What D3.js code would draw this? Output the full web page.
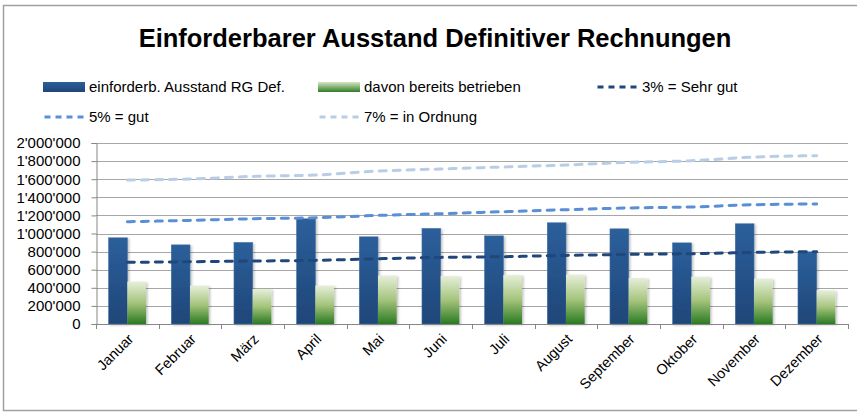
<!DOCTYPE html>
<meta charset="utf-8">
<style>
  body { margin: 0; background: #fff; }
  text { font-family: "Liberation Sans", Arial, sans-serif; fill: #000; }
  .title { font-family: "Liberation Sans Narrow", "Liberation Sans", sans-serif; font-weight: bold; font-size: 25.5px; }
  .legend text { font-size: 15px; }
  .xLabel { font-size: 14.5px; }
</style>
<body>
<script src="https://d3js.org/d3.v7.min.js"></script>
<script>
  var months = ["Januar", "Februar", "März", "April", "Mai", "Juni", "Juli", "August", "September", "Oktober", "November", "Dezember"];
  var ausstand = [952000, 874000, 900000, 1162000, 963000, 1055000, 974000, 1118000, 1051000, 896000, 1107000, 797000];
  var betrieben = [468000, 424000, 387000, 424000, 535000, 531000, 542000, 546000, 509000, 523000, 501000, 372000];
  var ziel3 = [681000, 688000, 696000, 703000, 721000, 736000, 744000, 758000, 769000, 777000, 791000, 799000];
  var ziel5 = [1130000, 1145000, 1163000, 1174000, 1200000, 1219000, 1241000, 1263000, 1282000, 1293000, 1318000, 1326000];
  var ziel7 = [1591000, 1602000, 1631000, 1646000, 1690000, 1713000, 1735000, 1757000, 1786000, 1804000, 1845000, 1860000];
  var yTicks = [0, 200000, 400000, 600000, 800000, 1000000, 1200000, 1400000, 1600000, 1800000, 2000000];

  var width = 857, height = 414;
  var plot = { left: 96, right: 848, top: 143, bottom: 324 };

  var svg = d3.select("body").append("svg")
    .attr("width", width)
    .attr("height", height);

  var defs = svg.append("defs");

  var blueGrad = defs.append("linearGradient")
    .attr("id", "blueGrad").attr("x1", 0).attr("y1", 0).attr("x2", 0).attr("y2", 1);
  blueGrad.append("stop").attr("offset", "0%").attr("stop-color", "#2c5f9b");
  blueGrad.append("stop").attr("offset", "100%").attr("stop-color", "#1f4678");

  var greenGrad = defs.append("linearGradient")
    .attr("id", "greenGrad").attr("x1", 0).attr("y1", 0).attr("x2", 0).attr("y2", 1);
  greenGrad.append("stop").attr("offset", "0%").attr("stop-color", "#e6efda");
  greenGrad.append("stop").attr("offset", "50%").attr("stop-color", "#a5c47c");
  greenGrad.append("stop").attr("offset", "100%").attr("stop-color", "#2a7a22");

  var legGreen = defs.append("linearGradient")
    .attr("id", "legGreen").attr("x1", 0).attr("y1", 0).attr("x2", 0).attr("y2", 1);
  legGreen.append("stop").attr("offset", "0%").attr("stop-color", "#d6e6c4");
  legGreen.append("stop").attr("offset", "100%").attr("stop-color", "#2e7d25");

  var shadow = defs.append("filter").attr("id", "shadow")
    .attr("x", "-20%").attr("y", "-20%").attr("width", "150%").attr("height", "150%");
  shadow.append("feDropShadow")
    .attr("dx", 1.5).attr("dy", 1).attr("stdDeviation", 1.2)
    .attr("flood-color", "#000").attr("flood-opacity", 0.25);

  // outer chart border
  svg.append("rect")
    .attr("x", 3.5).attr("y", 5.5)
    .attr("width", 870).attr("height", 405)
    .attr("fill", "none")
    .attr("stroke", "#a0a0a0")
    .attr("stroke-width", 1.5);

  svg.append("text")
    .attr("class", "title")
    .attr("x", 435)
    .attr("y", 47)
    .attr("text-anchor", "middle")
    .text("Einforderbarer Ausstand Definitiver Rechnungen");

  var x = d3.scaleBand()
    .domain(months)
    .range([plot.left, plot.right])
    .paddingInner(0.404)
    .paddingOuter(0.202);

  var xSeries = d3.scaleBand()
    .domain(["ausstand", "betrieben"])
    .range([0, x.bandwidth()]);

  var y = d3.scaleLinear()
    .domain([0, 2000000])
    .range([plot.bottom, plot.top]);

  var fmt = function (v) {
    return d3.format(",")(v).replace(/,/g, "'");
  };

  // gridlines
  svg.append("g")
    .selectAll("line")
    .data(yTicks)
    .enter()
    .append("line")
    .attr("x1", plot.left)
    .attr("x2", plot.right)
    .attr("y1", function (d) { return Math.round(y(d)) + 0.5; })
    .attr("y2", function (d) { return Math.round(y(d)) + 0.5; })
    .attr("stroke", "#a6a6a6")
    .attr("stroke-width", 1);

  var yAxis = svg.append("g")
    .attr("class", "yAxis")
    .attr("transform", "translate(" + (plot.left + 0.5) + ",0)")
    .call(d3.axisLeft(y).tickValues(yTicks).tickFormat(fmt).tickSize(5).tickPadding(11));
  yAxis.select(".domain").attr("stroke", "#868686");
  yAxis.selectAll(".tick line").attr("stroke", "#868686");
  yAxis.selectAll(".tick text").attr("fill", "#000").style("font-size", "15px")
    .style("font-family", "'Liberation Sans', Arial, sans-serif");

  // bars
  var groups = svg.append("g")
    .selectAll("g")
    .data(months)
    .enter()
    .append("g")
    .attr("transform", function (d) { return "translate(" + x(d) + ",0)"; });

  groups.append("rect")
    .attr("x", xSeries("ausstand"))
    .attr("y", function (d, i) { return y(ausstand[i]); })
    .attr("width", xSeries.bandwidth())
    .attr("height", function (d, i) { return y(0) - y(ausstand[i]); })
    .attr("fill", "url(#blueGrad)")
    .attr("stroke", "#3f6ea6")
    .attr("stroke-width", 0.6)
    .attr("filter", "url(#shadow)");

  groups.append("rect")
    .attr("x", xSeries("betrieben"))
    .attr("y", function (d, i) { return y(betrieben[i]); })
    .attr("width", xSeries.bandwidth())
    .attr("height", function (d, i) { return y(0) - y(betrieben[i]); })
    .attr("fill", "url(#greenGrad)")
    .attr("filter", "url(#shadow)");

  // x axis
  var xAxisG = svg.append("g");
  xAxisG.append("line")
    .attr("x1", plot.left).attr("x2", plot.right)
    .attr("y1", y(0) + 0.5).attr("y2", y(0) + 0.5)
    .attr("stroke", "#868686");
  xAxisG.selectAll(".tk")
    .data(d3.range(months.length + 1))
    .enter()
    .append("line")
    .attr("x1", function (i) { return Math.round(plot.left + i * x.step()) + 0.5; })
    .attr("x2", function (i) { return Math.round(plot.left + i * x.step()) + 0.5; })
    .attr("y1", y(0))
    .attr("y2", y(0) + 5)
    .attr("stroke", "#868686");

  xAxisG.selectAll(".xLabel")
    .data(months)
    .enter()
    .append("text")
    .attr("class", "xLabel")
    .attr("text-anchor", "end")
    .attr("transform", function (d) {
      return "translate(" + (x(d) + x.bandwidth() / 2 + 7) + "," + (y(0) + 16) + ") rotate(-45)";
    })
    .text(function (d) { return d; });

  // target lines
  var lineSeries = [
    { name: "3% = Sehr gut", values: ziel3, color: "#1f477c" },
    { name: "5% = gut", values: ziel5, color: "#5a8fd6" },
    { name: "7% = in Ordnung", values: ziel7, color: "#b9cde6" }
  ];

  var line = d3.line()
    .x(function (d, i) { return x(months[i]) + x.bandwidth() / 2; })
    .y(function (d) { return y(d); })
    .curve(d3.curveMonotoneX);

  svg.append("g")
    .selectAll("path")
    .data(lineSeries.slice().reverse())
    .enter()
    .append("path")
    .attr("d", function (d) { return line(d.values); })
    .attr("fill", "none")
    .attr("stroke", function (d) { return d.color; })
    .attr("stroke-width", 3)
    .attr("stroke-dasharray", "7,7")
    .attr("stroke-linecap", "round");

  // legend
  var legendItems = [
    { name: "einforderb. Ausstand RG Def.", type: "bar", fill: "url(#blueGrad)", col: 0, row: 0 },
    { name: "davon bereits betrieben", type: "bar", fill: "url(#legGreen)", col: 1, row: 0 },
    { name: lineSeries[0].name, type: "line", color: lineSeries[0].color, col: 2, row: 0 },
    { name: lineSeries[1].name, type: "line", color: lineSeries[1].color, col: 0, row: 1 },
    { name: lineSeries[2].name, type: "line", color: lineSeries[2].color, col: 1, row: 1 }
  ];
  var legendCols = [43, 318, 596];
  var legendRows = [87, 117];

  var legend = svg.append("g").attr("class", "legend")
    .selectAll("g")
    .data(legendItems)
    .enter()
    .append("g")
    .attr("transform", function (d) {
      return "translate(" + legendCols[d.col] + "," + legendRows[d.row] + ")";
    });

  legend.filter(function (d) { return d.type === "bar"; })
    .append("rect")
    .attr("x", 0).attr("y", -5)
    .attr("width", 42).attr("height", 10)
    .attr("fill", function (d) { return d.fill; });

  legend.filter(function (d) { return d.type === "line"; })
    .append("line")
    .attr("x1", 1.5).attr("x2", 42)
    .attr("y1", 0).attr("y2", 0)
    .attr("stroke", function (d) { return d.color; })
    .attr("stroke-width", 3)
    .attr("stroke-dasharray", "6,5")
    .attr("stroke-linecap", "butt");

  legend.append("text")
    .attr("x", 46)
    .attr("y", 5)
    .text(function (d) { return d.name; });
</script>
</body>
